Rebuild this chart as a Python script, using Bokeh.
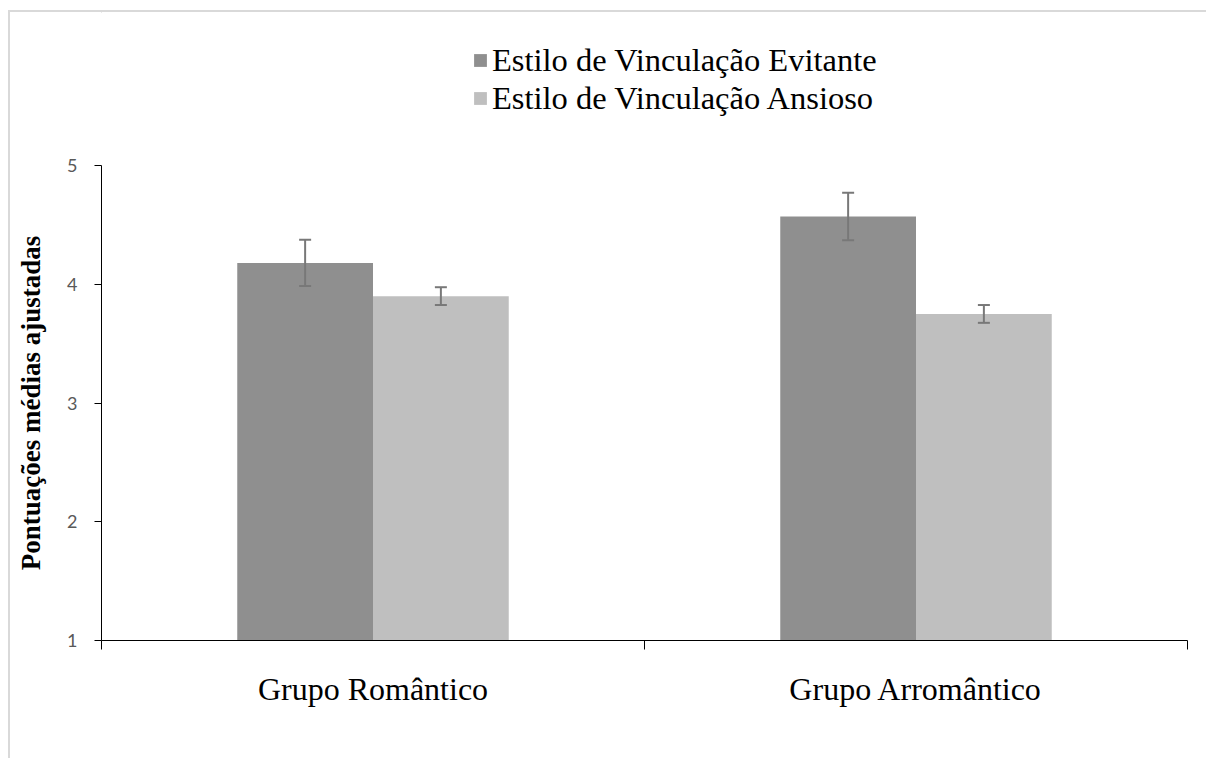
from bokeh.plotting import figure
from bokeh.layouts import column
from bokeh.models import (ColumnDataSource, Range1d, FixedTicker, Whisker, TeeHead,
                          Legend, LegendItem, LinearAxis)
from bokeh.embed import file_html
from bokeh.resources import INLINE

groups = ["Grupo Romântico", "Grupo Arromântico"]
series = ["Estilo de Vinculação Evitante", "Estilo de Vinculação Ansioso"]
avoidant = [4.18, 4.57]
avoidant_err = [0.195, 0.2]
anxious = [3.90, 3.75]
anxious_err = [0.075, 0.075]
colors = ["#8f8f8f", "#bfbfbf"]

bar_w = 0.25
centers = [i + 0.5 for i in range(len(groups))]

# ---- main chart ----
p = figure(width=1196, height=613, output_backend="svg", toolbar_location=None,
           x_range=Range1d(0, len(groups)), y_range=Range1d(1, 5),
           min_border_left=91, min_border_right=19, min_border_top=20, min_border_bottom=118,
           x_axis_location=None, y_axis_location=None)
p.frame_width = 1086
p.frame_height = 475
p.outline_line_color = None
p.xgrid.visible = False
p.ygrid.visible = False
p.background_fill_color = "white"
p.border_fill_color = "white"

# ---- legend strip (same bars, kept out of its visible ranges; only the legend shows) ----
lg = figure(width=1196, height=133, output_backend="svg", toolbar_location=None,
            x_range=Range1d(20, 22), y_range=Range1d(-20, -19),
            min_border=0, x_axis_location=None, y_axis_location=None)
lg.outline_line_color = None
lg.xgrid.visible = False
lg.ygrid.visible = False
lg.background_fill_color = "white"
lg.border_fill_color = "white"

items = []
for k, (vals, errs) in enumerate([(avoidant, avoidant_err), (anxious, anxious_err)]):
    xs = [c + (k - 0.5) * bar_w for c in centers]
    src = ColumnDataSource(dict(x=xs, top=vals,
                                upper=[v + e for v, e in zip(vals, errs)],
                                lower=[v - e for v, e in zip(vals, errs)]))
    p.vbar(x="x", top="top", bottom=1, width=bar_w, source=src,
           fill_color=colors[k], line_color=None)
    w = Whisker(base="x", upper="upper", lower="lower", source=src, level="overlay",
                line_color="#787878", line_width=2,
                upper_head=TeeHead(size=12, line_color="#787878", line_width=2),
                lower_head=TeeHead(size=12, line_color="#787878", line_width=2))
    p.add_layout(w)
    r = lg.vbar(x="x", top="top", bottom=1, width=bar_w, source=src,
                fill_color=colors[k], line_color=None)
    items.append(LegendItem(label=series[k], renderers=[r]))

yax = LinearAxis(ticker=FixedTicker(ticks=[1, 2, 3, 4, 5]))
yax.axis_line_color = "black"
yax.major_tick_line_color = "black"
yax.major_tick_out = 7
yax.major_tick_in = 0
yax.minor_tick_line_color = None
yax.major_label_text_font = "Lato"
yax.major_label_text_font_size = "18px"
yax.major_label_text_color = "#595959"
yax.major_label_standoff = 17
yax.axis_label = "Pontuações médias ajustadas"
yax.axis_label_text_font = "Liberation Serif"
yax.axis_label_text_font_style = "bold"
yax.axis_label_text_font_size = "27px"
yax.axis_label_text_color = "black"
yax.axis_label_standoff = 18
p.add_layout(yax, "left")

xax = LinearAxis(ticker=FixedTicker(ticks=centers,
                                    minor_ticks=list(range(len(groups) + 1))))
xax.major_label_overrides = {c: g for c, g in zip(centers, groups)}
xax.axis_line_color = "black"
xax.major_tick_line_color = None
xax.major_tick_out = 0
xax.major_tick_in = 0
xax.minor_tick_line_color = "black"
xax.minor_tick_out = 9
xax.minor_tick_in = 0
xax.major_label_text_font = "Liberation Serif"
xax.major_label_text_font_size = "32px"
xax.major_label_text_color = "black"
xax.major_label_standoff = 21
p.add_layout(xax, "below")

legend = Legend(items=items, location=(371, 28), orientation="vertical")
legend.label_text_font = "Liberation Serif"
legend.label_text_font_size = "32.5px"
legend.label_text_color = "black"
legend.label_height = 38
legend.glyph_height = 16
legend.glyph_width = 16
legend.label_standoff = 4
legend.spacing = 0
legend.padding = 0
legend.margin = 0
legend.border_line_color = None
legend.background_fill_alpha = 0
lg.add_layout(legend, "center")

layout = column(lg, p, spacing=0)
layout.styles = {"border-left": "2px solid #d9d9d9", "border-top": "2px solid #d9d9d9",
                 "margin-top": "10px", "margin-left": "8px"}

open("out.html", "w").write(file_html(layout, INLINE))
